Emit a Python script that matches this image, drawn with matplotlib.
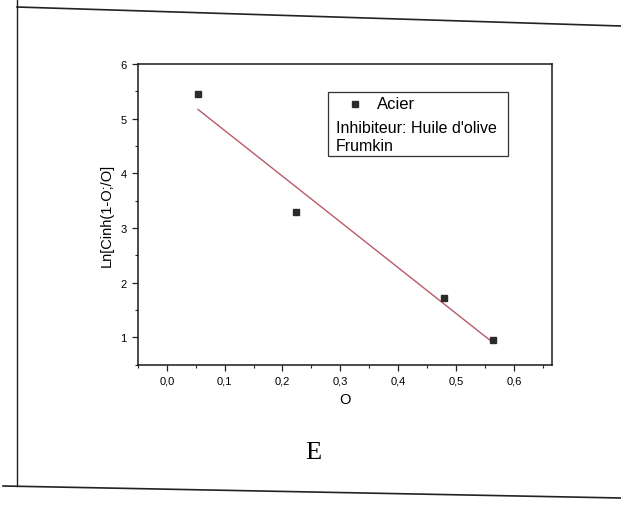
import numpy as np
import matplotlib
matplotlib.use('Agg')
import matplotlib.pyplot as plt
from matplotlib.lines import Line2D
from matplotlib.patches import Rectangle

# points
theta = [0.054, 0.223, 0.480, 0.564]
ln_val = [5.45, 3.30, 1.72, 0.96]

xticks = [0.0, 0.1, 0.2, 0.3, 0.4, 0.5, 0.6]
xtick_labels = ['0,0', '0,1', '0,2', '0,3', '0,4', '0,5', '0,6']
yticks = [1, 2, 3, 4, 5, 6]
ytick_labels = ['1', '2', '3', '4', '5', '6']

plt.rcParams['font.family'] = ['Liberation Sans', 'DejaVu Sans']

fig = plt.figure(figsize=(6.21, 5.06), dpi=100)
ax = fig.add_axes([0.222, 0.277, 0.667, 0.595])

# linear fit (Frumkin)
slope, inter = np.polyfit(theta, ln_val, 1)
xf = np.array([min(theta), max(theta)])
ax.plot(xf, slope * xf + inter, color='#b85a68', lw=1.0, zorder=2)
ax.plot(theta, ln_val, 's', color='#2b2b2b', ms=5, zorder=3)

ax.set_xlim(-0.036, 0.666)
ax.set_ylim(0.5, 6.0)
ax.set_xticks(xticks)
ax.set_xticklabels(xtick_labels)
ax.set_yticks(yticks)
ax.set_yticklabels(ytick_labels)
ax.set_xticks(np.arange(-0.05, 0.66, 0.05), minor=True)
ax.set_yticks(np.arange(0.5, 6.01, 0.5), minor=True)
ax.tick_params(which='major', direction='out', length=4, width=0.9, labelsize=8, color='#222', pad=4)
ax.tick_params(which='minor', direction='out', length=2.5, width=0.8, color='#222')
for s in ax.spines.values():
    s.set_linewidth(1.1)
    s.set_color('#1a1a1a')

ax.set_xlabel('O', fontsize=10.5, labelpad=4)
ax.set_ylabel('Ln[Cinh(1-O;/O]', fontsize=10.5, labelpad=5)

# legend box
ax.add_patch(Rectangle((0.459, 0.694), 0.435, 0.213, transform=ax.transAxes,
                       fc='white', ec='#333', lw=0.9, zorder=4))
ax.plot([0.524], [0.867], 's', color='#2b2b2b', ms=4.5, transform=ax.transAxes, zorder=5)
ax.text(0.578, 0.867, 'Acier', transform=ax.transAxes, fontsize=12, va='center', ha='left', zorder=5)
ax.text(0.478, 0.787, "Inhibiteur: Huile d'olive", transform=ax.transAxes, fontsize=11.5,
        va='center', ha='left', zorder=5)
ax.text(0.478, 0.728, 'Frumkin', transform=ax.transAxes, fontsize=11.5, va='center', ha='left', zorder=5)

# caption
fig.text(0.505, 0.105, 'E', fontsize=19, family='Liberation Serif', ha='center', va='center')

# scanned page frame
fig.add_artist(Line2D([17/621, 17/621], [1.0, 1 - 487/506], transform=fig.transFigure, color='#222', lw=1.0))
fig.add_artist(Line2D([17/621, 1.0], [1 - 8/506, 1 - 27/506], transform=fig.transFigure, color='#222', lw=1.2))
fig.add_artist(Line2D([3/621, 1.0], [1 - 487/506, 1 - 499/506], transform=fig.transFigure, color='#222', lw=1.2))

fig.savefig('out.png', dpi=100)
